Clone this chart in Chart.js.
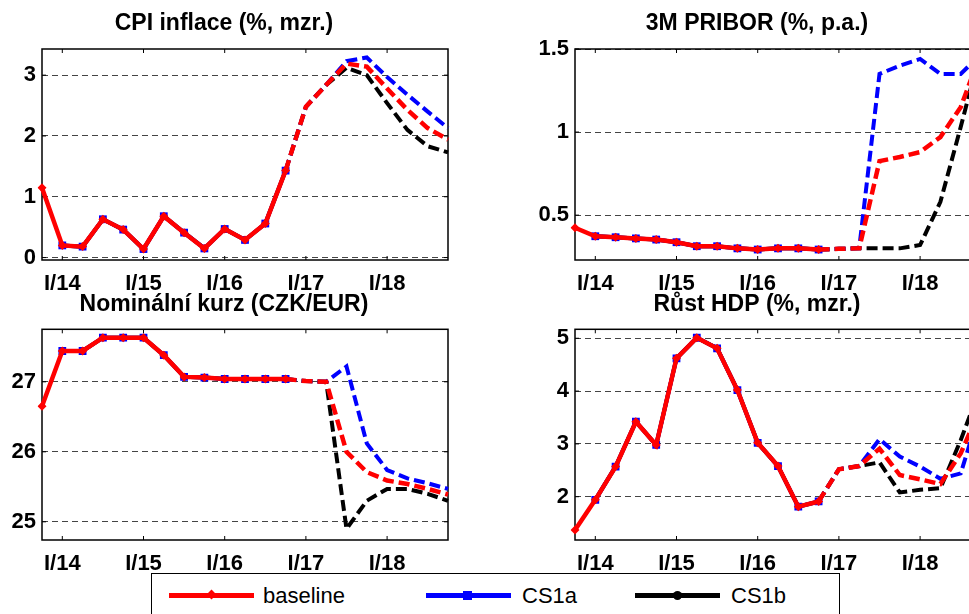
<!DOCTYPE html>
<html lang="cs">
<head>
<meta charset="utf-8">
<title>Scénáře</title>
<script src="https://cdn.jsdelivr.net/npm/chart.js@4.4.1/dist/chart.umd.min.js"></script>
<style>
  html, body { margin: 0; padding: 0; width: 969px; height: 614px; overflow: hidden; background: #fff; }
  canvas { position: absolute; }
  #legend { position: absolute; left: 151px; top: 573px; width: 687px; height: 60px;
            border: 1px solid #000; background: #fff; font-family: 'Liberation Sans', Arial, sans-serif; }
  #legend .ln { position: absolute; top: 19px; width: 85px; height: 5px; }
  #legend .mk { position: absolute; }
  #legend .tx { position: absolute; top: 9px; font-size: 22px; line-height: 26px; color: #000; }
</style>
</head>
<body>

<canvas id="cpi" width="462" height="300" style="left:0;top:0"></canvas>
<canvas id="pribor" width="462" height="300" style="left:533px;top:0"></canvas>
<canvas id="kurz" width="462" height="290" style="left:0;top:290px"></canvas>
<canvas id="hdp" width="462" height="290" style="left:533px;top:290px"></canvas>

<div id="legend">
  <span class="ln" style="left:17px;background:#f00"></span>
  <span class="mk" style="left:56px;top:17px;width:7px;height:7px;background:#f00;transform:rotate(45deg)"></span>
  <span class="tx" style="left:111px">baseline</span>
  <span class="ln" style="left:274px;background:#00f"></span>
  <span class="mk" style="left:311px;top:17px;width:9px;height:9px;background:#00f"></span>
  <span class="tx" style="left:370px">CS1a</span>
  <span class="ln" style="left:483px;background:#000"></span>
  <span class="mk" style="left:521px;top:17px;width:9px;height:9px;background:#000;border-radius:50%"></span>
  <span class="tx" style="left:579px">CS1b</span>
</div>

<script>
// quarters IV/13 .. IV/18
var quarters = ['IV/13',
  'I/14','II/14','III/14','IV/14',
  'I/15','II/15','III/15','IV/15',
  'I/16','II/16','III/16','IV/16',
  'I/17','II/17','III/17','IV/17',
  'I/18','II/18','III/18','IV/18'];

// history IV/13 .. II/17 (shared by all scenarios), then forecasts III/17 .. IV/18
var cpiHist    = [1.15, 0.20, 0.18, 0.63, 0.46, 0.14, 0.68, 0.41, 0.15, 0.47, 0.29, 0.56, 1.43, 2.48, 2.84];
var cpiBase    = [3.19, 3.14, 2.78, 2.43, 2.13, 1.94];
var cpiA       = [3.23, 3.29, 2.97, 2.68, 2.40, 2.13];
var cpiB       = [3.12, 3.00, 2.54, 2.10, 1.83, 1.73];
var cpiTicks   = [0, 1, 2, 3];

var priborHist = [0.424, 0.373, 0.367, 0.360, 0.353, 0.337, 0.313, 0.313, 0.300, 0.293, 0.300, 0.300, 0.293, 0.297, 0.300];
var priborBase = [0.825, 0.85, 0.88, 0.97, 1.15, 1.48];
var priborA    = [1.35, 1.40, 1.44, 1.35, 1.35, 1.47];
var priborB    = [0.30, 0.30, 0.32, 0.58, 1.03, 1.50];
var priborTicks = [0.5, 1, 1.5];

var kurzHist   = [26.65, 27.44, 27.44, 27.63, 27.63, 27.63, 27.38, 27.07, 27.06, 27.04, 27.04, 27.04, 27.04, 27.01, 27.00];
var kurzBase   = [26.00, 25.71, 25.59, 25.54, 25.47, 25.39];
var kurzA      = [27.22, 26.12, 25.74, 25.62, 25.55, 25.47];
var kurzB      = [24.90, 25.30, 25.47, 25.47, 25.40, 25.30];
var kurzTicks  = [25, 26, 27];

var hdpHist    = [1.37, 1.94, 2.57, 3.42, 2.98, 4.62, 5.01, 4.81, 4.02, 3.02, 2.58, 1.81, 1.91, 2.52, 2.58];
var hdpBase    = [2.91, 2.41, 2.33, 2.24, 2.82, 3.70];
var hdpA       = [3.09, 2.76, 2.57, 2.34, 2.44, 3.70];
var hdpB       = [2.65, 2.08, 2.13, 2.16, 3.07, 4.10];
var hdpTicks   = [2, 3, 4, 5];

var FONT = "'Liberation Sans', Arial, sans-serif";
var lastActual = 12;   // IV/16 - solid line and markers up to here

// frame round the plot + small inward ticks (matlab look)
var boxPlugin = {
  id: 'box',
  beforeDatasetsDraw: function(chart) {
    var a = chart.chartArea, ctx = chart.ctx;
    var xs = chart.scales.x, ys = chart.scales.y;
    ctx.save();
    ctx.strokeStyle = '#000';
    ctx.lineWidth = 1.5;
    ctx.strokeRect(a.left, a.top, a.right - a.left, a.bottom - a.top);
    ctx.lineWidth = 1;
    quarters.forEach(function(q, i) {
      if (q.indexOf('I/') !== 0) return;
      var px = xs.getPixelForValue(i);
      ctx.beginPath();
      ctx.moveTo(px, a.bottom); ctx.lineTo(px, a.bottom - 4);
      ctx.moveTo(px, a.top); ctx.lineTo(px, a.top + 4);
      ctx.stroke();
    });
    ys.ticks.forEach(function(t) {
      var py = ys.getPixelForValue(t.value);
      ctx.beginPath();
      ctx.moveTo(a.left, py); ctx.lineTo(a.left + 4, py);
      ctx.moveTo(a.right, py); ctx.lineTo(a.right - 4, py);
      ctx.stroke();
    });
    ctx.restore();
  }
};

function series(label, color, values, style, radius, width, fromStart) {
  return {
    label: label,
    data: values,
    borderColor: color,
    backgroundColor: color,
    borderWidth: width,
    pointStyle: style,
    pointRadius: function(c) { return (c.dataIndex <= lastActual && (fromStart || c.dataIndex > 0)) ? radius : 0; },
    pointBorderWidth: 0,
    pointHoverRadius: 0,
    spanGaps: false,
    tension: 0,
    segment: {
      borderDash: function(c) { return c.p0DataIndex >= lastActual ? [11, 5] : undefined; }
    }
  };
}

function panel(id, title, hist, base, fa, fb, ymin, ymax, ticks, titlePad) {
  var baseline = hist.concat(base);
  var cs1a = [null].concat(hist.slice(1), fa);
  var cs1b = [null].concat(hist.slice(1), fb);
  new Chart(document.getElementById(id), {
    type: 'line',
    data: {
      labels: quarters,
      datasets: [
        series('baseline', '#ff0000', baseline, 'rectRot', 4.5, 4.5, true),
        series('CS1a', '#0000ff', cs1a, 'rect', 5.5, 4, false),
        series('CS1b', '#000000', cs1b, 'circle', 3.5, 4, false)
      ]
    },
    options: {
      responsive: false,
      animation: false,
      layout: { padding: { left: 0, right: 14, top: 0, bottom: 0 } },
      plugins: {
        legend: { display: false },
        tooltip: { enabled: false },
        title: {
          display: true,
          text: title,
          color: '#000',
          font: { family: FONT, size: 23, weight: 'bold' },
          padding: titlePad
        }
      },
      scales: {
        x: {
          type: 'category',
          offset: false,
          grid: { display: false, drawTicks: false },
          border: { display: false },
          afterFit: function(s) { s.height = 40; },
          ticks: {
            autoSkip: false,
            maxRotation: 0,
            padding: 11,
            color: '#000',
            font: { family: FONT, size: 22, weight: 'bold' },
            callback: function(v, i) { return quarters[i].indexOf('I/') === 0 ? quarters[i] : ''; }
          }
        },
        y: {
          min: ymin,
          max: ymax,
          afterFit: function(s) { s.width = 42; },
          afterBuildTicks: function(s) { s.ticks = ticks.map(function(v) { return { value: v }; }); },
          grid: { color: '#444', lineWidth: 1, drawTicks: false },
          border: { display: false, dash: [6, 4] },
          ticks: {
            padding: 6,
            color: '#000',
            font: { family: FONT, size: 22, weight: 'bold' },
            callback: function(v) { return String(v); }
          }
        }
      }
    },
    plugins: [boxPlugin]
  });
}

panel('cpi', 'CPI inflace (%, mzr.)', cpiHist, cpiBase, cpiA, cpiB, -0.04, 3.43, cpiTicks, { top: 10, bottom: 11.4 });
panel('pribor', '3M PRIBOR (%, p.a.)', priborHist, priborBase, priborA, priborB, 0.23, 1.5, priborTicks, { top: 10, bottom: 11.4 });
panel('kurz', 'Nominální kurz (CZK/EUR)', kurzHist, kurzBase, kurzA, kurzB, 24.74, 27.75, kurzTicks, { top: 1, bottom: 10.7 });
panel('hdp', 'Růst HDP (%, mzr.)', hdpHist, hdpBase, hdpA, hdpB, 1.18, 5.17, hdpTicks, { top: 1, bottom: 10.7 });
</script>
</body>
</html>
